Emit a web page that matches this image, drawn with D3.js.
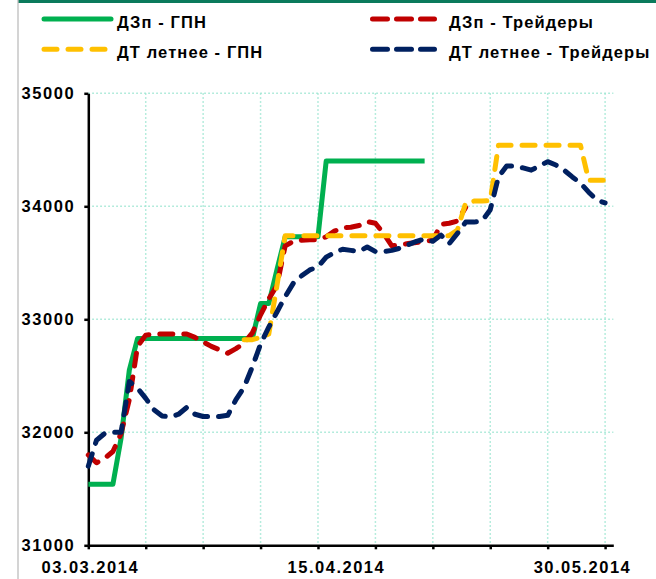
<!DOCTYPE html>
<html>
<head>
<meta charset="utf-8">
<style>
  body { margin: 0; background: #fff; }
  svg text { font-family: "Liberation Sans", Arial, sans-serif; font-weight: bold; fill: #000; }
  .grid line { stroke: #9ee6d2; stroke-width: 1.5; stroke-dasharray: 1.5, 2.5; }
  .axis path, .axis line { stroke: #000; stroke-width: 2.5; }
  .line { fill: none; stroke-width: 5; stroke-linejoin: round; }
</style>
</head>
<body>
<svg width="656" height="579"></svg>
<script src="https://d3js.org/d3.v7.min.js"></script>
<script>
// trading days from 03.03.2014, one value per day (null = no quote)
var dateLabels = ["03.03.2014", "15.04.2014", "30.05.2014"];
var labelIdx = [0, 30, 60];
var yTicks = [31000, 32000, 33000, 34000, 35000];
var names = ["ДЗп - ГПН", "ДЗп - Трейдеры", "ДТ летнее - ГПН", "ДТ летнее - Трейдеры"];
var colors = ["#00b050", "#c00000", "#ffc000", "#002060"];

var dzGpn = [31540, 31540, 31540, 31540, 31950, 32550, 32830, 32830, 32830, 32830,
  32830, 32830, 32830, 32830, 32830, 32830, 32830, 32830, 32830, 32830,
  32830, 33140, 33140, 33440, 33730, 33730, 33730, 33730, 33730, 34400,
  34400, 34400, 34400, 34400, 34400, 34400, 34400, 34400, 34400, 34400,
  34400, 34400, null, null, null, null, null, null, null, null,
  null, null, null, null, null, null, null, null, null, null,
  null, null, null, null];

var dzTr = [31800, 31730, 31770, 31830, 31990, 32290, 32760, 32860, 32870, 32870,
  32870, 32870, 32870, 32840, 32800, 32760, 32730, 32700, 32740, 32790,
  32880, 33040, 33180, 33300, 33650, 33690, 33700, 33705, 33705, 33730,
  33780, 33810, 33815, 33830, 33865, 33850, 33760, 33650, 33660, 33670,
  33680, 33690, 33700, 33840, 33850, 33870, 33990, null, null, null,
  null, null, null, null, null, null, null, null, null, null,
  null, null, null, null];

var dtGpn = [null, null, null, null, null, null, null, null, null, null,
  null, null, null, null, null, null, null, null, null, 32820,
  32820, 32840, 32870, 33300, 33740, 33740, 33740, 33740, 33740, 33740,
  33740, 33740, 33740, 33740, 33740, 33740, 33740, 33740, 33740, 33740,
  33740, 33740, 33740, 33740, 33740, 33790, 34030, 34046, 34046, 34050,
  34540, 34540, 34540, 34540, 34540, 34540, 34540, 34540, 34540, 34540,
  34540, 34230, 34230, 34230];

var dtTr = [31700, 31930, 31990, 32000, 32000, 32450, 32390, 32300, 32200, 32145,
  32135, 32160, 32220, 32160, 32140, 32140, 32140, 32150, 32290, 32400,
  32580, 32780, 32930, 33065, 33200, 33320, 33385, 33437, 33465, 33550,
  33590, 33620, 33610, 33600, 33640, 33600, 33600, 33610, 33630, 33660,
  33690, 33710, 33690, 33745, 33670, 33760, 33860, 33860, 33870, 33970,
  34260, 34357, 34357, 34340, 34320, 34357, 34395, 34365, 34320, 34260,
  34205, 34125, 34055, 34030];

var series = [dzGpn, dzTr, dtGpn, dtTr];
var nDays = 64;

var svg = d3.select("svg");

// frame of the original picture
svg.append("rect").attr("x", 18).attr("y", 0).attr("width", 638).attr("height", 3).attr("fill", "#0b7a5c");
svg.append("line").attr("x1", 18).attr("x2", 18).attr("y1", 0).attr("y2", 579)
  .attr("stroke", "#bdbdbd").attr("stroke-width", 1.3);

var x = d3.scaleLinear().domain([0, nDays]).range([88.3, 613.3]),
    y = d3.scaleLinear().domain([31000, 35000]).range([545.3, 93.3]);

var xTicks = d3.range(0, nDays, 7);

// grid
var grid = svg.append("g").attr("class", "grid");
grid.selectAll(".gy").data(yTicks.slice(1)).enter().append("line")
  .attr("x1", x(0)).attr("x2", x(nDays))
  .attr("y1", function (d) { return y(d); })
  .attr("y2", function (d) { return y(d); });
grid.selectAll(".gx").data(xTicks.slice(1)).enter().append("line")
  .attr("x1", function (d) { return x(d); })
  .attr("x2", function (d) { return x(d); })
  .attr("y1", y(35000)).attr("y2", y(31000));

// axes
var yAxis = svg.append("g").attr("class", "axis")
  .attr("transform", "translate(" + x(0) + ",0)")
  .call(d3.axisLeft(y).tickValues(yTicks).tickSize(4).tickSizeOuter(0).tickPadding(9).tickFormat(d3.format("d")));
yAxis.selectAll("text").style("font-size", "16.5px").style("letter-spacing", "1.6px");

svg.append("g").attr("class", "axis")
  .attr("transform", "translate(0," + y(31000) + ")")
  .call(d3.axisBottom(x).tickValues(xTicks).tickSize(4).tickSizeOuter(0).tickFormat(""));

svg.selectAll(".xlab").data(labelIdx).enter().append("text")
  .attr("x", function (d) { return x(d) + 2; })
  .attr("y", 573)
  .attr("text-anchor", "middle")
  .style("font-size", "16.5px")
  .style("letter-spacing", "1.5px")
  .text(function (d, i) { return dateLabels[i]; });

// lines
var line = d3.line()
  .defined(function (d) { return d != null; })
  .x(function (d, i) { return x(i); })
  .y(function (d) { return y(d); });

svg.selectAll(".line").data(series).enter().append("path")
  .attr("class", "line")
  .attr("d", line)
  .attr("stroke", function (d, i) { return colors[i]; })
  .attr("stroke-linecap", function (d, i) { return i == 0 ? "butt" : "round"; })
  .attr("stroke-dasharray", function (d, i) { return i == 0 ? null : "13,11"; });

// legend
var legPos = [[44, 19], [372.5, 19], [44, 49.3], [372.5, 49.3]];
var leg = svg.selectAll(".leg").data(names).enter().append("g")
  .attr("transform", function (d, i) { return "translate(" + legPos[i][0] + "," + legPos[i][1] + ")"; });
leg.append("line")
  .attr("x1", 0)
  .attr("x2", function (d, i) { return i == 0 ? 67 : i == 2 ? 61 : 62; })
  .attr("stroke", function (d, i) { return colors[i]; })
  .attr("stroke-width", 5)
  .attr("stroke-linecap", "round")
  .attr("stroke-dasharray", function (d, i) { return i == 0 ? null : i == 2 ? "13,11" : "15,9"; });
leg.append("text")
  .attr("x", function (d, i) { return i % 2 == 0 ? 73 : 76.5; })
  .attr("y", 8.5)
  .style("font-size", "16.5px")
  .style("letter-spacing", "1.1px")
  .text(function (d) { return d; });
</script>
</body>
</html>
